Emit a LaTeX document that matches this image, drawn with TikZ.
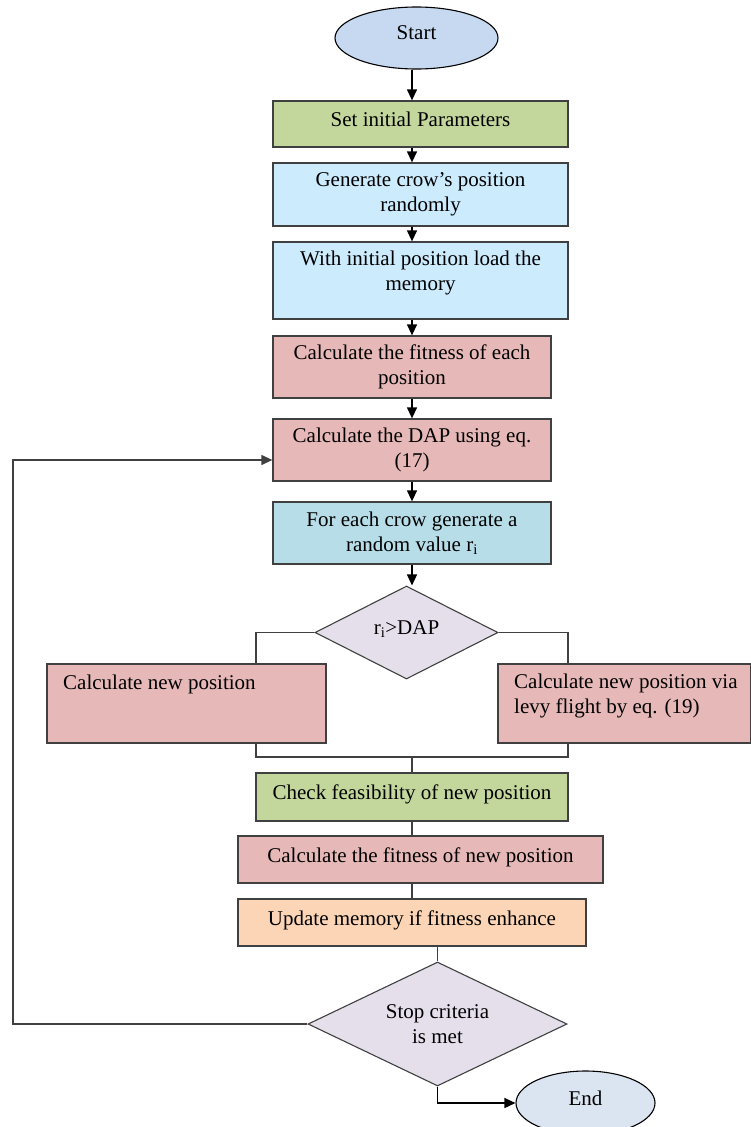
\documentclass[tikz,border=0pt]{standalone}
\usepackage{fontspec}
\setmainfont{Liberation Serif}
\usetikzlibrary{shapes.geometric,arrows.meta}
\definecolor{cStart}{HTML}{C6D9F0}
\definecolor{cEnd}{HTML}{DBE5F1}
\definecolor{cGreen}{HTML}{C3D69B}
\definecolor{cSky}{HTML}{CCEBFD}
\definecolor{cPink}{HTML}{E6B8B7}
\definecolor{cTeal}{HTML}{B7DEE8}
\definecolor{cLilac}{HTML}{E5DFEC}
\definecolor{cOrange}{HTML}{FBD5B5}
\definecolor{cLine}{HTML}{404040}
\begin{document}
\begin{tikzpicture}[x=1pt,y=-1pt,
  every node/.style={font=\fontsize{21}{25}\selectfont},
  box/.style={draw=cLine, line width=1.3pt, rectangle, inner sep=0pt, align=center},
  oneline/.style={text depth=9.5pt},
  term/.style={draw=black, line width=1.1pt, ellipse, inner sep=0pt, text depth=10pt},
  decision/.style={draw=cLine, line width=1.1pt, diamond, shape aspect=2.1, inner sep=0pt, align=center, fill=cLilac},
  lbl/.style={inner sep=0pt},
  conn/.style={draw=cLine, line width=1.2pt},
  arr/.style={draw=black, line width=1.3pt, -{Triangle[length=11pt,width=10pt]}}]
\useasboundingbox (0,0) rectangle (750,1127);

% terminals
\node[term, fill=cStart, minimum width=163pt, minimum height=62pt] (start) at (416.5,38) {Start};
\node[term, fill=cEnd, minimum width=139pt, minimum height=64pt] (stop) at (585.5,1103) {End};

% process boxes
\node[box, oneline, fill=cGreen, minimum width=295pt, minimum height=46pt] (b1) at (420.5,124) {Set initial Parameters};
\node[box, fill=cSky, minimum width=295pt, minimum height=63pt] (b2) at (420.5,194.5) {Generate crow’s position\\randomly};
\node[box, fill=cSky, minimum width=295pt, minimum height=77pt] (b3) at (420.5,280.5) {};
\node[lbl, anchor=north, align=center] (t3) at (420.5,250.5) {With initial position load the\\memory};
\node[box, fill=cPink, minimum width=278pt, minimum height=62pt] (b4) at (412,367) {Calculate the fitness of each\\position};
\node[box, fill=cPink, minimum width=278pt, minimum height=62pt] (b5) at (412,450) {Calculate the DAP using eq.\\(17)};
\node[box, fill=cTeal, minimum width=278pt, minimum height=62pt] (b6) at (412,533) {For each crow generate a\\random value r\textsubscript{i}};

\node[decision, text depth=9.5pt, minimum width=183pt, minimum height=93pt] (d1) at (406.5,632.5) {r\textsubscript{i}>DAP};

\node[box, fill=cPink, minimum width=279pt, minimum height=79pt] (b7) at (186.5,703.5) {};
\node[lbl, anchor=north west, align=left] (t7) at (63,674.5) {Calculate new position};
\node[box, fill=cPink, minimum width=253pt, minimum height=79pt] (b8) at (624.5,703.5) {};
\node[lbl, anchor=north west, align=left] (t8) at (514,673.5) {Calculate new position via\\levy flight by eq. (19)};

\node[box, oneline, fill=cGreen, minimum width=312pt, minimum height=48pt] (b9) at (412,797) {Check feasibility of new position};
\node[box, oneline, fill=cPink, minimum width=365pt, minimum height=47pt] (b10) at (420.5,859.5) {Calculate the fitness of new position};
\node[box, oneline, fill=cOrange, minimum width=348pt, minimum height=47pt] (b11) at (412,922.5) {Update memory if fitness enhance};

\node[decision, minimum width=259pt, minimum height=124pt] (d2) at (437.5,1024) {Stop criteria\\is met};

% helper coordinates
\coordinate (ar) at (412,0);
\coordinate (mL) at (256,757);
\coordinate (mR) at (568,757);
\coordinate (lp) at (13,460);

% main flow arrows
\draw[arr] (start.south -| ar) -- (b1.north -| ar);
\draw[arr] (b1.south -| ar) -- (b2.north -| ar);
\draw[arr] (b2.south -| ar) -- (b3.north -| ar);
\draw[arr] (b3.south -| ar) -- (b4.north -| ar);
\draw[arr] (b4.south -| ar) -- (b5.north -| ar);
\draw[arr] (b5.south -| ar) -- (b6.north -| ar);
\draw[arr] (b6.south -| ar) -- (d1.north -| ar);

% branches
\draw[conn] (d1.west) -- (d1.west -| mL) -- (b7.north -| mL);
\draw[conn] (d1.east) -- (d1.east -| mR) -- (b8.north -| mR);
\draw[conn] (b7.south -| mL) -- (mL) -- (mR) -- (b8.south -| mR);
\draw[conn] (mL -| ar) -- (b9.north -| ar);
\draw[conn] (b9.south -| ar) -- (b10.north -| ar);
\draw[conn] (b10.south -| ar) -- (b11.north -| ar);
\draw[conn] (b11.south -| d2.north) -- (d2.north);

% loop back and end
\draw[arr, draw=cLine] (d2.west) -- (d2.west -| lp) -- (lp) -- (lp -| b5.west);
\draw[arr] (d2.south) -- (d2.south |- stop.west) -- (stop.west);
\end{tikzpicture}
\end{document}
